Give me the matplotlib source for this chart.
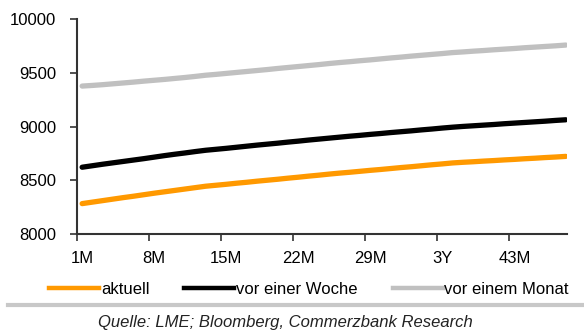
#
# Forward curve chart: LME prices by contract month for today,
# one week ago and one month ago.
#
import matplotlib
matplotlib.use('Agg')
import matplotlib.pyplot as plt
from matplotlib.lines import Line2D

# contract months 1M .. 48M
months = [f"{m}M" for m in range(1, 49)]
tickLabels = ["1M", "8M", "15M", "22M", "29M", "3Y", "43M"]

aktuell = [8283, 8297, 8311, 8325, 8339, 8352, 8366, 8380, 8393, 8406, 8419, 8432,
           8445, 8454, 8463, 8473, 8482, 8492, 8501, 8510, 8520, 8529, 8539, 8548,
           8558, 8567, 8575, 8584, 8593, 8601, 8610, 8619, 8627, 8636, 8645, 8653,
           8662, 8668, 8673, 8679, 8684, 8690, 8695, 8701, 8706, 8712, 8717, 8723]

vorWoche = [8622, 8636, 8650, 8663, 8676, 8689, 8702, 8716, 8730, 8743, 8755, 8768,
            8780, 8789, 8798, 8808, 8818, 8828, 8837, 8846, 8856, 8865, 8875, 8884,
            8893, 8902, 8911, 8919, 8928, 8936, 8945, 8953, 8961, 8970, 8978, 8987,
            8995, 9002, 9008, 9014, 9020, 9027, 9033, 9039, 9045, 9051, 9058, 9064]

vorMonat = [9378, 9384, 9391, 9399, 9407, 9415, 9424, 9432, 9440, 9449, 9458, 9468,
            9479, 9487, 9496, 9505, 9514, 9523, 9532, 9542, 9551, 9560, 9569, 9578,
            9588, 9597, 9605, 9614, 9622, 9631, 9640, 9648, 9657, 9665, 9673, 9681,
            9690, 9696, 9703, 9709, 9716, 9722, 9728, 9735, 9741, 9747, 9753, 9760]

seriesNames = ["aktuell", "vor einer Woche", "vor einem Monat"]
colors = ["#FF9900", "#000000", "#C0C0C0"]

plt.rcParams['font.family'] = ['Liberation Sans', 'DejaVu Sans']
fontSize = 12
axisColor = "#333333"

W, H = 584, 333
fig = plt.figure(figsize=(W / 100, H / 100), dpi=100)
ax = fig.add_axes([77 / W, (H - 234) / H, (567 - 77) / W, (234 - 19.3) / H])

x = list(range(len(months)))
for vals, col in zip([vorMonat, vorWoche, aktuell], [colors[2], colors[1], colors[0]]):
    ax.plot(x, vals, color=col, linewidth=3.8, solid_capstyle='round')

# category axis: tick marks between groups of 7, labels under the first month of each group
ax.set_xlim(-0.5, -0.5 + 490 / 10.29)
ax.set_xticks([i - 0.5 for i in range(0, 48, 7)])
ax.set_xticklabels([])
ax.set_xticks(range(0, 48, 7), minor=True)
ax.set_xticklabels(tickLabels, minor=True, fontsize=fontSize)
ax.tick_params(axis='x', which='major', direction='out', length=5, width=1.2, color=axisColor)
ax.tick_params(axis='x', which='minor', length=0, pad=12)

ax.set_ylim(8000, 10000)
ax.set_yticks([8000, 8500, 9000, 9500, 10000])
ax.tick_params(axis='y', direction='out', length=5, width=1.2, color=axisColor,
               labelsize=fontSize, pad=10)

for side in ['top', 'right']:
    ax.spines[side].set_visible(False)
for side in ['left', 'bottom']:
    ax.spines[side].set_color(axisColor)
    ax.spines[side].set_linewidth(1.5)
ax.spines['left'].set_zorder(5)
ax.spines['bottom'].set_zorder(5)

# legend below the axis
handles = [Line2D([], [], color=c, linewidth=3.2) for c in colors]
fig.legend(handles, seriesNames, loc='center', bbox_to_anchor=(309 / W, (H - 289) / H),
           ncol=3, frameon=False, fontsize=fontSize, handlelength=3.0,
           handletextpad=0.1, columnspacing=2.1)

# separator and source line
fig.add_artist(Line2D([8 / W, 1.0], [(H - 305) / H] * 2, color="#C8C8C8", linewidth=3))
fig.text(285 / W, (H - 323) / H, "Quelle: LME; Bloomberg, Commerzbank Research",
         ha='center', va='center', style='italic', fontsize=fontSize, color="#222222")

fig.savefig("out.png", dpi=100)
